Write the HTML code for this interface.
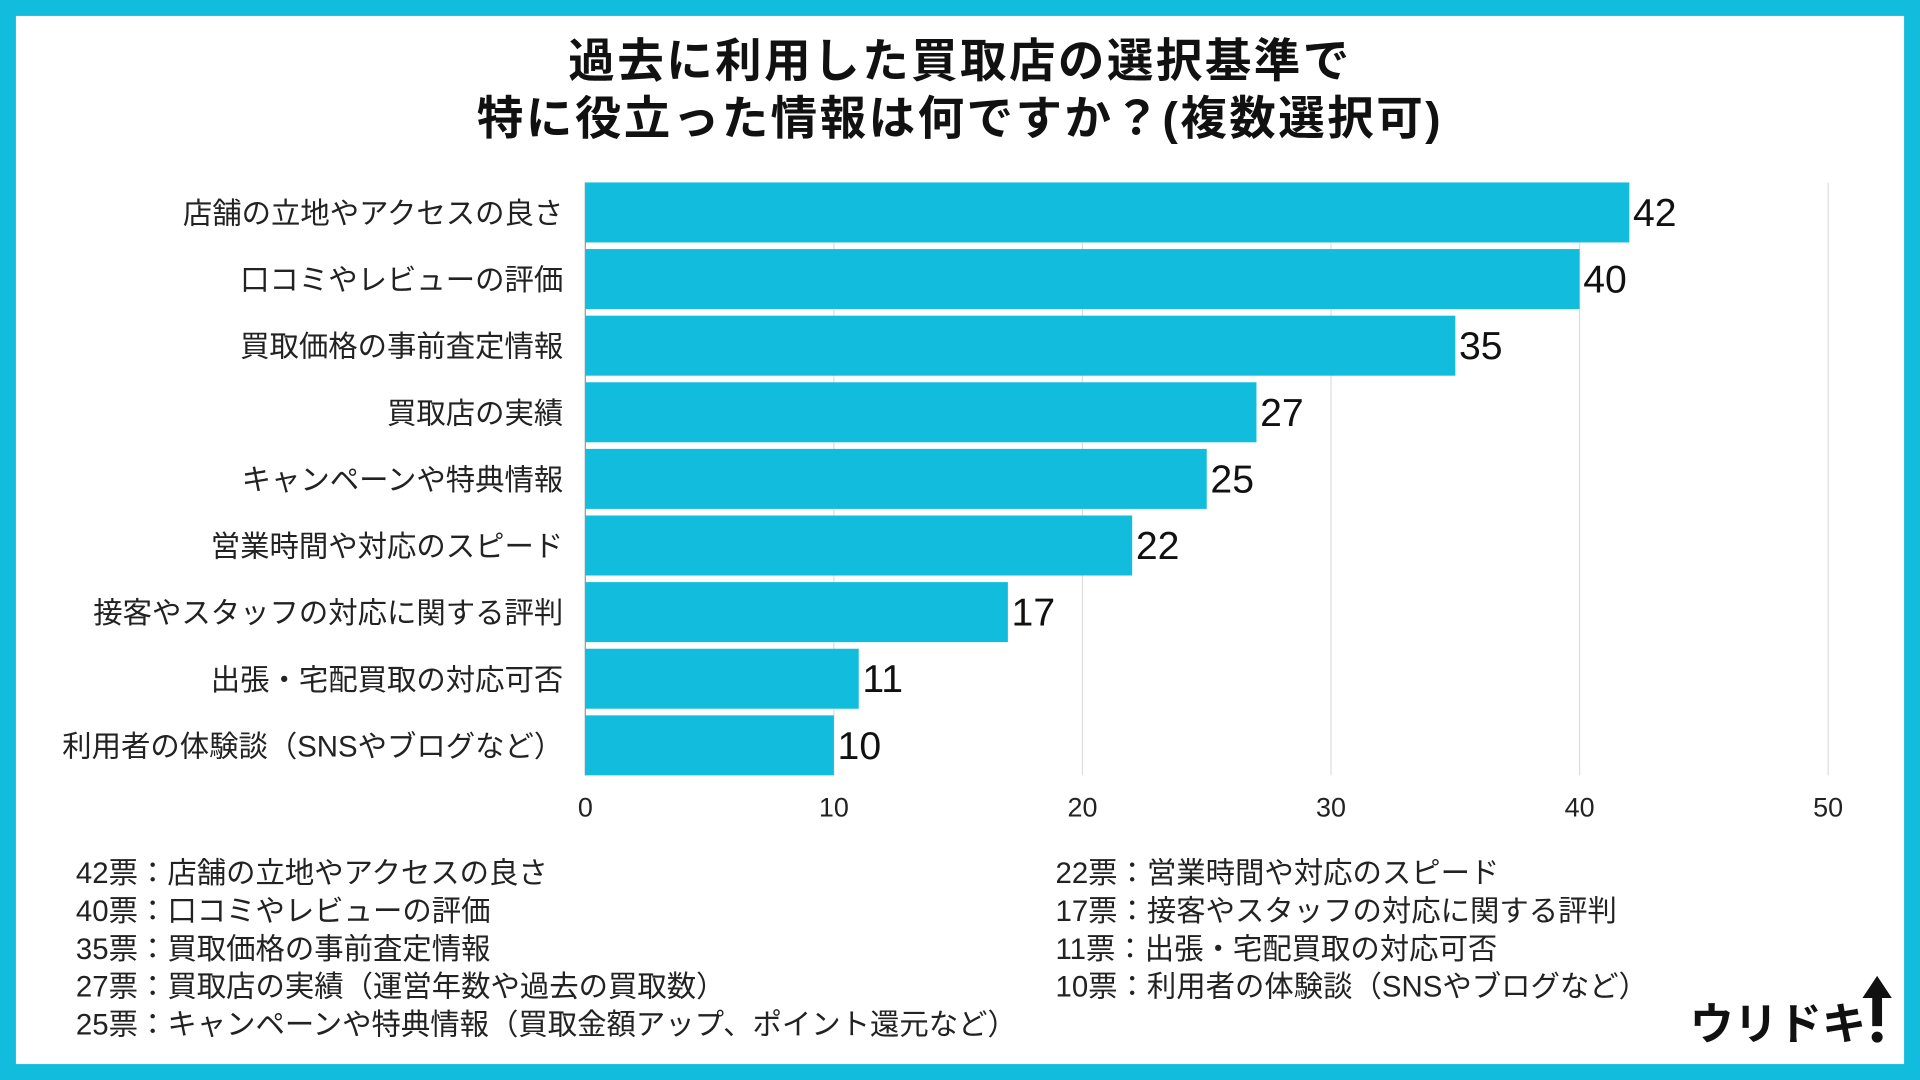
<!DOCTYPE html>
<html><head><meta charset="utf-8"><style>
html,body{margin:0;padding:0;background:#fff;}
svg{display:block;font-family:"Liberation Sans","Noto Sans CJK JP",sans-serif;}
</style></head><body>
<svg id="chart" width="1920" height="1080" viewBox="0 0 1568 882" xmlns="http://www.w3.org/2000/svg">
<rect x="0" y="0" width="1568" height="882" fill="#12bcdc"/>
<rect x="13" y="13" width="1542" height="856" fill="#ffffff"/>
<text x="784" y="63" text-anchor="middle" font-size="38" font-weight="bold" letter-spacing="2" fill="#111">過去に利用した買取店の選択基準で</text>
<text x="784" y="110" text-anchor="middle" font-size="38" font-weight="bold" letter-spacing="2" fill="#111">特に役立った情報は何ですか？(複数選択可)</text>
<g id="grid"></g><g id="bars"></g><g id="notes"></g>
<g>
<text x="1380" y="849" font-size="36" font-weight="bold" fill="#111">ウリドキ</text>
<polygon points="1533,797 1545,815 1537,815 1537,838 1529,838 1529,815 1521,815" fill="#111"/>
<circle cx="1533" cy="847" r="4.5" fill="#111"/>
</g>
</svg>
<script>
const categories=["店舗の立地やアクセスの良さ","口コミやレビューの評価","買取価格の事前査定情報","買取店の実績","キャンペーンや特典情報","営業時間や対応のスピード","接客やスタッフの対応に関する評判","出張・宅配買取の対応可否","利用者の体験談（SNSやブログなど）"];
const values=[42,40,35,27,25,22,17,11,10];
const ticks=[0,10,20,30,40,50];
const notesLeft=["42票：店舗の立地やアクセスの良さ","40票：口コミやレビューの評価","35票：買取価格の事前査定情報","27票：買取店の実績（運営年数や過去の買取数）","25票：キャンペーンや特典情報（買取金額アップ、ポイント還元など）"];
const notesRight=["22票：営業時間や対応のスピード","17票：接客やスタッフの対応に関する評判","11票：出張・宅配買取の対応可否","10票：利用者の体験談（SNSやブログなど）"];
const NS="http://www.w3.org/2000/svg";
const x0=478,x1=1493,vmax=50,top0=149,pitch=54.4,bh=49;
const sx=v=>x0+(x1-x0)*v/vmax;
function mk(tag,attrs,txt){const e=document.createElementNS(NS,tag);for(const k in attrs)e.setAttribute(k,attrs[k]);if(txt!==undefined)e.textContent=txt;return e;}
const grid=document.getElementById('grid'),bars=document.getElementById('bars'),notes=document.getElementById('notes');
ticks.forEach(t=>{
 const l=mk('line',{x1:sx(t),x2:sx(t),y1:top0,y2:top0+pitch*8+bh,stroke:t===0?'#999':'#dddddd','stroke-width':1});
 
 
 grid.appendChild(l);
 const tl=mk('text',{x:sx(t),y:667,'text-anchor':'middle','font-size':22,fill:'#222'},t);
 
 
 grid.appendChild(tl);
});
categories.forEach((c,i)=>{
 const y=top0+pitch*i;
 const r=mk('rect',{x:x0,y:y,width:sx(values[i])-x0,height:bh,fill:'#12bcdc'});
 
 
 bars.appendChild(r);
 const lb=mk('text',{x:460,y:y+bh/2+9,'text-anchor':'end','font-size':24,fill:'#222'},c);
 
 
 bars.appendChild(lb);
 const vl=mk('text',{x:sx(values[i])+3,y:y+bh/2+11,'font-size':32,fill:'#111'},values[i]);
 
 
 bars.appendChild(vl);
});
notesLeft.forEach((n,i)=>{
 const t=mk('text',{x:62,y:721+31*i,'font-size':24,fill:'#222'},n);
 
 
 notes.appendChild(t);
});
notesRight.forEach((n,i)=>{
 const t=mk('text',{x:862,y:721+31*i,'font-size':24,fill:'#222'},n);
 
 
 notes.appendChild(t);
});
</script>
</body></html>
